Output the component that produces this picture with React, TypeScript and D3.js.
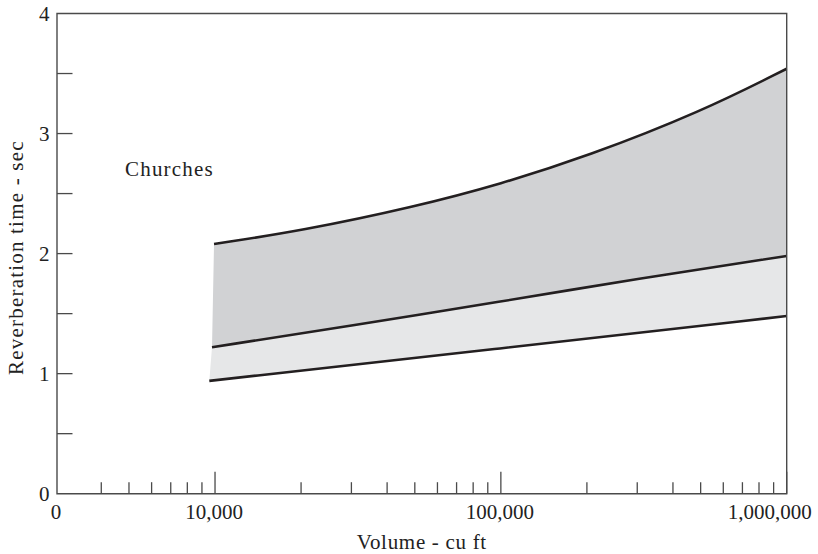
import React from "react";
import * as d3 from "d3";

// Data (volume in cu ft, reverberation time in sec)
const upperVolume = [9920, 20000, 50000, 100000, 200000, 500000, 1000000];
const upperTime = [2.08, 2.19, 2.39, 2.58, 2.81, 3.18, 3.54];
const middleVolume = [9760, 30000, 100000, 300000, 1000000];
const middleTime = [1.22, 1.4, 1.6, 1.79, 1.98];
const lowerVolume = [9550, 100000, 1000000];
const lowerTime = [0.94, 1.21, 1.48];

const majorTicks = [10000, 100000, 1000000];
const majorLabels = ["10,000", "100,000", "1,000,000"];
const minorTicks = [
  4000, 5000, 6000, 7000, 8000, 9000,
  20000, 30000, 40000, 50000, 60000, 70000, 80000, 90000,
  200000, 300000, 400000, 500000, 600000, 700000, 800000, 900000,
];
const yTicks = [0.5, 1, 1.5, 2, 2.5, 3, 3.5];
const yLabels = [0, 1, 2, 3, 4];

const W = 818;
const H = 554;
const left = 57;
const right = 786.7;
const top = 13.5;
const bottom = 493.7;

const FONT = "'Liberation Serif', 'Times New Roman', serif";
const AXIS = "#4a4a4a";
const INK = "#231f20";

export default function App() {
  const x = d3.scaleLog().domain([2800, 1000000]).range([left, right]);
  const y = d3.scaleLinear().domain([0, 4]).range([bottom, top]);

  const zip = (xs: number[], ys: number[]) => xs.map((v, i) => [v, ys[i]] as [number, number]);
  const upper = zip(upperVolume, upperTime);
  const middle = zip(middleVolume, middleTime);
  const lower = zip(lowerVolume, lowerTime);

  const line = d3
    .line<[number, number]>()
    .x((d) => x(d[0]))
    .y((d) => y(d[1]))
    .curve(d3.curveBasis);

  const band = (a: [number, number][], b: [number, number][]) => {
    const p1 = line(a) as string;
    const p2 = line(b.slice().reverse()) as string;
    return p1 + "L" + p2.slice(1) + "Z";
  };

  return (
    <svg
      width={W}
      height={H}
      style={{ position: "absolute", left: 0, top: 0, background: "#fff" }}
      fontFamily={FONT}
    >
      <path d={band(upper, middle)} fill="#d1d2d4" stroke="none" />
      <path d={band(middle, lower)} fill="#e6e7e8" stroke="none" />
      <path d={line(upper) as string} fill="none" stroke={INK} strokeWidth={2.6} />
      <path d={line(middle) as string} fill="none" stroke={INK} strokeWidth={2.6} />
      <path d={line(lower) as string} fill="none" stroke={INK} strokeWidth={2.6} />

      {/* frame */}
      <path
        d={`M${left},${top}H${right}V${bottom}H${left}Z`}
        fill="none"
        stroke={AXIS}
        strokeWidth={1.4}
      />

      {/* y ticks */}
      {yTicks.map((t) => (
        <line key={"yt" + t} x1={left} x2={left + 15.5} y1={y(t)} y2={y(t)} stroke={AXIS} strokeWidth={1.3} />
      ))}
      {yLabels.map((t) => (
        <text key={"yl" + t} x={49.5} y={y(t) + 7} textAnchor="end" fontSize={21} fill="#222">
          {t}
        </text>
      ))}

      {/* x ticks */}
      {minorTicks.map((t) => (
        <line key={"xm" + t} x1={x(t)} x2={x(t)} y1={bottom} y2={bottom - 11.5} stroke={AXIS} strokeWidth={1.3} />
      ))}
      {majorTicks.map((t) => (
        <line key={"xM" + t} x1={x(t)} x2={x(t)} y1={bottom} y2={bottom - 22} stroke={AXIS} strokeWidth={1.3} />
      ))}
      <text x={left - 1} y={519} textAnchor="middle" fontSize={21} fill="#222">
        0
      </text>
      {majorTicks.map((t, i) => (
        <text
          key={"xl" + t}
          x={x(t) + (i === majorTicks.length - 1 ? -17 : -1)}
          y={519}
          textAnchor="middle"
          fontSize={21}
          fill="#222"
        >
          {majorLabels[i]}
        </text>
      ))}

      {/* axis titles */}
      <text x={(left + right) / 2} y={549} textAnchor="middle" fontSize={21} letterSpacing={0.7} fill="#222">
        Volume - cu ft
      </text>
      <text
        transform={`translate(23, ${(top + bottom) / 2 + 4}) rotate(-90)`}
        textAnchor="middle"
        fontSize={21}
        letterSpacing={1.2}
        fill="#222"
      >
        Reverberation time - sec
      </text>
      <text x={125} y={176} fontSize={21} letterSpacing={1.2} fill="#222">
        Churches
      </text>
    </svg>
  );
}
